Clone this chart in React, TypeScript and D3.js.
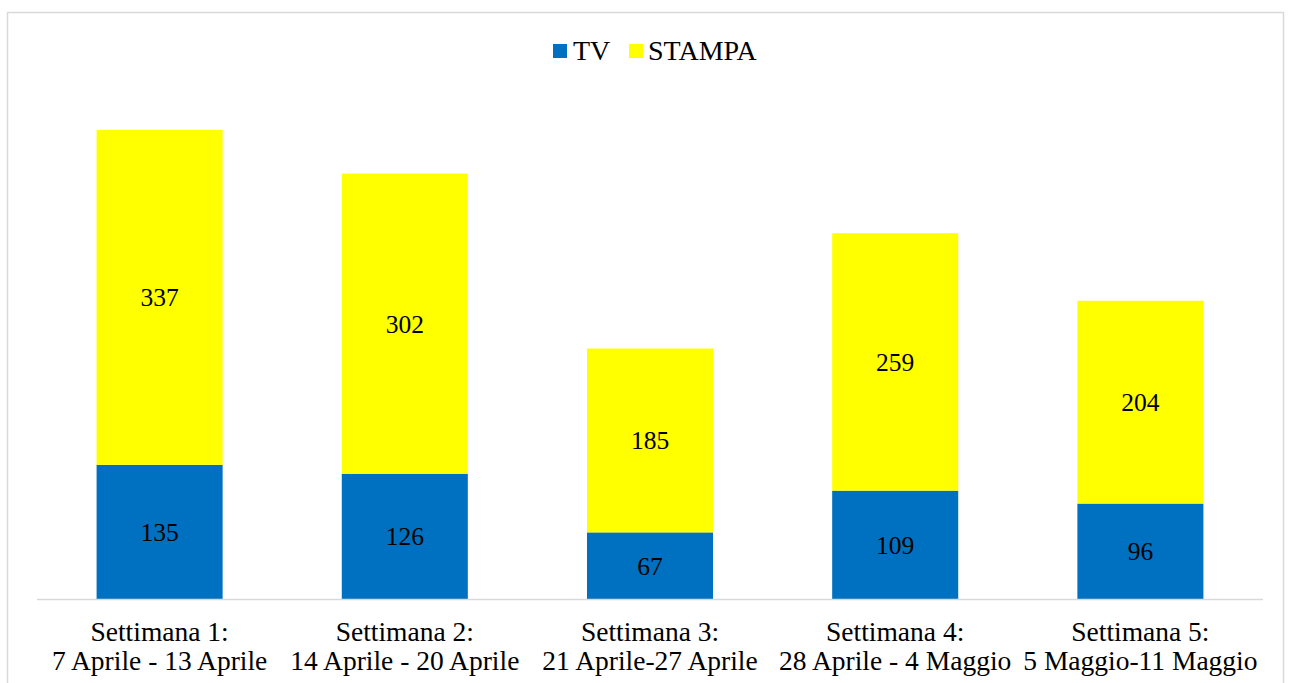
import React from "react";
import * as d3 from "d3";

// weekly counts
const weeks = [
  ["Settimana 1:", "7 Aprile - 13 Aprile"],
  ["Settimana 2:", "14 Aprile - 20 Aprile"],
  ["Settimana 3:", "21 Aprile-27 Aprile"],
  ["Settimana 4:", "28 Aprile - 4 Maggio"],
  ["Settimana 5:", "5 Maggio-11 Maggio"],
];
const tv = [135, 126, 67, 109, 96];
const stampa = [337, 302, 185, 259, 204];
const seriesNames = ["TV", "STAMPA"];
const colors = ["#0070C0", "#FFFF00"];

const size = { width: 1291, height: 683 };
const plot = { left: 37, right: 1263, bottom: 599, top: 102 };
const font = "'Liberation Serif', 'Times New Roman', serif";

export default function App() {
  const rows = weeks.map((w, i) => ({ i, tv: tv[i], stampa: stampa[i] }));

  const x = d3
    .scaleBand<number>()
    .domain(d3.range(weeks.length))
    .range([plot.left, plot.right])
    .paddingInner(0.486)
    .paddingOuter(0.243);

  const y = d3.scaleLinear().domain([0, 500]).range([plot.bottom, plot.top]);

  const stack = d3.stack<any>().keys(["tv", "stampa"])(rows);

  // legend layout
  const legendItems = [
    { name: seriesNames[0], color: colors[0], sx: 553, tx: 573 },
    { name: seriesNames[1], color: colors[1], sx: 629, tx: 648 },
  ];

  return (
    <svg
      width={size.width}
      height={size.height}
      style={{ position: "absolute", left: 0, top: 0, background: "#fff" }}
      fontFamily={font}
    >
      <rect x={7.5} y={12.5} width={1276} height={700} fill="#fff" stroke="#d9d9d9" strokeWidth={1.5} />

      {stack.map((layer, li) => (
        <g key={layer.key} fill={colors[li]}>
          {layer.map((d, i) => (
            <rect
              key={i}
              x={x(i)}
              y={y(d[1])}
              width={x.bandwidth()}
              height={y(d[0]) - y(d[1])}
            />
          ))}
        </g>
      ))}

      <line x1={plot.left} x2={plot.right} y1={plot.bottom + 0.5} y2={plot.bottom + 0.5} stroke="#d9d9d9" strokeWidth={1.5} />

      {stack.map((layer) =>
        layer.map((d, i) => (
          <text
            key={layer.key + i}
            x={x(i)! + x.bandwidth() / 2}
            y={(y(d[0]) + y(d[1])) / 2}
            dy="0.35em"
            textAnchor="middle"
            fontSize={25.5}
            fill="#000"
          >
            {d[1] - d[0]}
          </text>
        ))
      )}

      {weeks.map((w, i) => (
        <text
          key={i}
          x={x(i)! + x.bandwidth() / 2}
          textAnchor="middle"
          fontSize={27.5}
          fill="#000"
        >
          <tspan x={x(i)! + x.bandwidth() / 2} y={641}>{w[0]}</tspan>
          <tspan x={x(i)! + x.bandwidth() / 2} y={670}>{w[1]}</tspan>
        </text>
      ))}

      {legendItems.map((l) => (
        <g key={l.name}>
          <rect x={l.sx} y={44} width={14} height={14} fill={l.color} />
          <text x={l.tx} y={60} fontSize={28} fill="#000">
            {l.name}
          </text>
        </g>
      ))}
    </svg>
  );
}
